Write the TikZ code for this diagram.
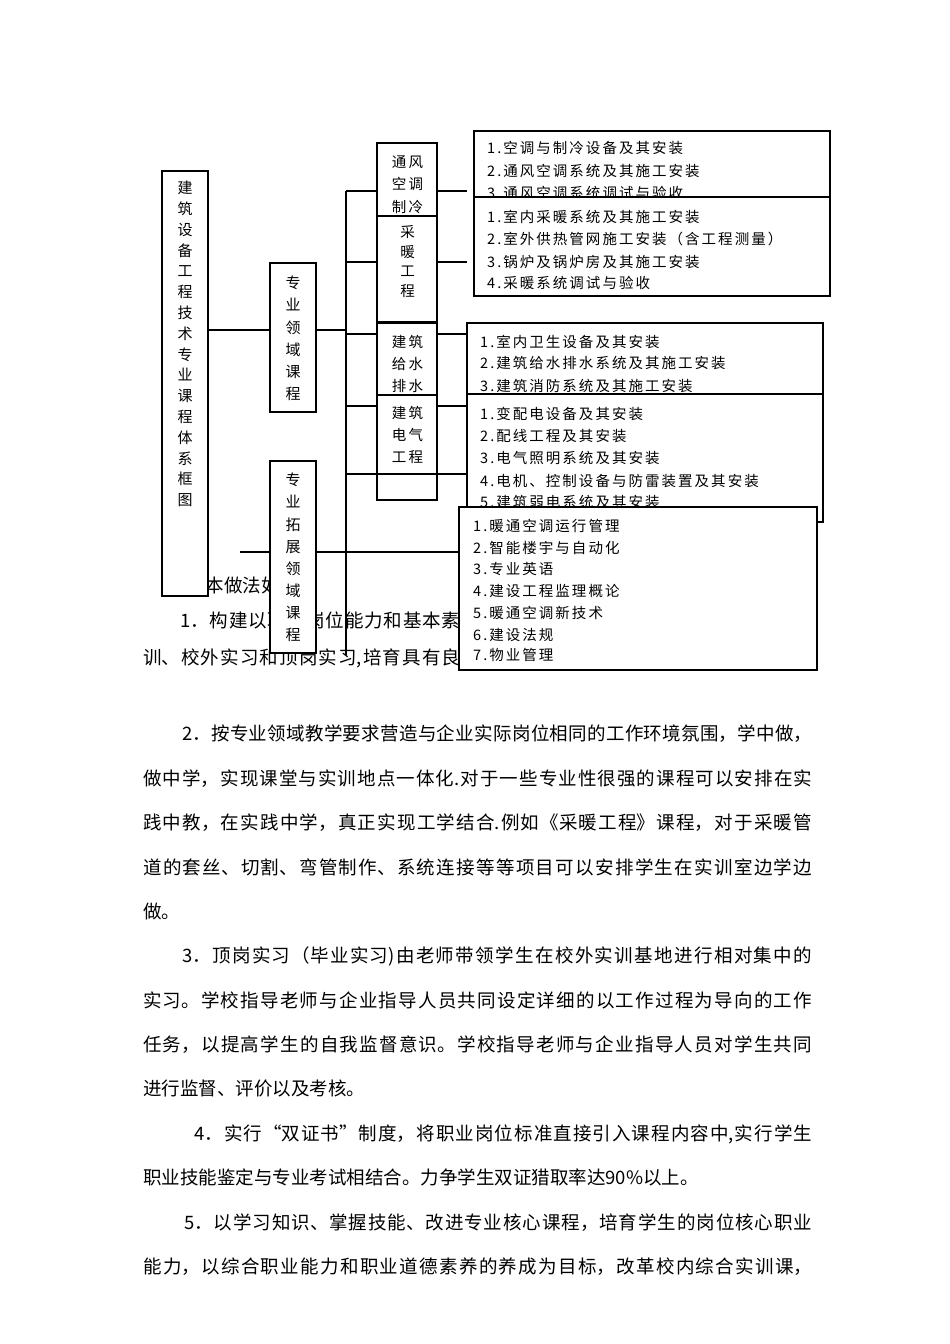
\documentclass[tikz,border=0pt]{standalone}
\usepackage{fontspec}
\setmainfont{Noto Sans CJK SC}
\newfontfamily\lstfont[LetterSpace=14]{Noto Sans CJK SC}
\XeTeXlinebreaklocale "zh"
\XeTeXlinebreakskip=0pt plus 3pt
\newcommand\jl[2]{\parbox[b]{#1}{\tolerance=10000\hbadness=10000\parindent=0pt\parfillskip=0pt\relax #2}}
\tikzset{
  box/.style={draw=black, line width=1.3pt, fill=white, inner sep=0pt, outer sep=0pt, anchor=north west},
  conn/.style={draw=black, line width=1.3pt},
  body/.style={anchor=base west, inner sep=0pt, font=\fontsize{18.5}{22}\selectfont},
  vtxt/.style={align=center, inner sep=0pt, font=\fontsize{15}{#1}\selectfont},
  htxt/.style={align=center, inner sep=0pt, font=\lstfont\fontsize{14.5}{#1}\selectfont},
  item/.style={anchor=base west, inner sep=0pt, font=\lstfont\fontsize{14.5}{17}\selectfont}
}
\begin{document}
\begin{tikzpicture}[x=1pt,y=-1pt]
\useasboundingbox[fill=white] (0,0) rectangle (950,1344);

% ---- body text (partly covered by the diagram) ----
\node[body] (p0a) at (187,592) {基本做法如下};
\node[body] (p1a) at (180,627) {\jl{280pt}{1．构建以职业岗位能力和基本素}};
\node[body] (p1b) at (143,664) {\jl{317pt}{训、校外实习和顶岗实习,培育具有良}};

\node[body] (p2a) at (182,740) {\jl{630pt}{2．按专业领域教学要求营造与企业实际岗位相同的工作环境氛围，学中做，}};
\node[body] (p2b) at (143,785) {\jl{669pt}{做中学，实现课堂与实训地点一体化.对于一些专业性很强的课程可以安排在实}};
\node[body] (p2c) at (143,829) {\jl{669pt}{践中教，在实践中学，真正实现工学结合.例如《采暖工程》课程，对于采暖管}};
\node[body] (p2d) at (143,874) {\jl{669pt}{道的套丝、切割、弯管制作、系统连接等等项目可以安排学生在实训室边学边}};
\node[body] (p2e) at (143,918) {做。};

\node[body] (p3a) at (182,962) {\jl{630pt}{3．顶岗实习（毕业实习)由老师带领学生在校外实训基地进行相对集中的}};
\node[body] (p3b) at (143,1007) {\jl{669pt}{实习。学校指导老师与企业指导人员共同设定详细的以工作过程为导向的工作}};
\node[body] (p3c) at (143,1051) {\jl{669pt}{任务，以提高学生的自我监督意识。学校指导老师与企业指导人员对学生共同}};
\node[body] (p3d) at (143,1095) {进行监督、评价以及考核。};

\node[body] (p4a) at (194,1140) {\jl{618pt}{4．实行“双证书”制度，将职业岗位标准直接引入课程内容中,实行学生}};
\node[body] (p4b) at (143,1184) {职业技能鉴定与专业考试相结合。力争学生双证猎取率达90\%以上。};

\node[body] (p5a) at (184,1229) {\jl{628pt}{5．以学习知识、掌握技能、改进专业核心课程，培育学生的岗位核心职业}};
\node[body] (p5b) at (143,1273) {\jl{669pt}{能力，以综合职业能力和职业道德素养的养成为目标，改革校内综合实训课，}};

% ---- junction coordinates ----
\coordinate (bus) at (346,330);
\coordinate (b1) at (346,191);
\coordinate (b2) at (346,262);
\coordinate (b3) at (346,334);
\coordinate (b4) at (346,406);
\coordinate (b5) at (346,474);
\coordinate (bend) at (346,655);
\coordinate (t1) at (240,552);

% ---- box positions for the lines drawn beneath ----
\path
  (162,171) node[box, minimum width=46pt, minimum height=425pt, draw=none, fill=none] (mainpos) {}
  (270,263) node[box, minimum width=46pt, minimum height=149pt, draw=none, fill=none] (lypos) {}
  (270,461) node[box, minimum width=46pt, minimum height=192pt, draw=none, fill=none] (tzpos) {};

% ---- connectors ----
\draw[conn] (mainpos.east |- bus) -- (lypos.west |- bus);
\draw[conn] (lypos.east |- bus) -- (bus);
\draw[conn] (b1) -- (bend);
\draw[conn] (t1) -- (tzpos.west |- t1);
\draw[conn] (tzpos.east |- t1) -- (459,552) coordinate (t2);

% boxes drawn over lines
\node[box, minimum width=46pt, minimum height=425pt] (main) at (162,171) {};
\node[box, minimum width=46pt, minimum height=149pt] (ly) at (270,263) {};
\node[box, minimum width=46pt, minimum height=192pt] (tz) at (270,461) {};
\node[box, minimum width=60pt, minimum height=73pt] (tf) at (377,143) {};
\node[box, minimum width=60pt, minimum height=106pt] (cn) at (377,216) {};
\node[box, minimum width=60pt, minimum height=72pt] (js) at (377,323) {};
\node[box, minimum width=60pt, minimum height=105pt] (dq) at (377,395) {};

\draw[conn] (b1) -- (tf.west |- b1);
\draw[conn] (b2) -- (cn.west |- b2);
\draw[conn] (b3) -- (js.west |- b3);
\draw[conn] (b4) -- (dq.west |- b4);

% vertical labels
\node[vtxt=20.8pt] (mainT) at (main.center |- 0,344) {建\\筑\\设\\备\\工\\程\\技\\术\\专\\业\\课\\程\\体\\系\\框\\图};
\node[vtxt=22.2pt] (lyT) at (ly.center |- 0,338.5) {专\\业\\领\\域\\课\\程};
\node[vtxt=22.1pt] (tzT) at (tz.center |- 0,557.5) {专\\业\\拓\\展\\领\\域\\课\\程};
\node[htxt=22.5pt] (tfT) at (407.5,184.5) {通风\\空调\\制冷};
\node[htxt=19.5pt] (cnT) at (407.5,261.5) {采\\暖\\工\\程};
\node[htxt=22pt] (jsT) at (407.5,364) {建筑\\给水\\排水};
\node[htxt=22pt] (dqT) at (407.5,435) {建筑\\电气\\工程};

% ---- list boxes ----
\node[box, minimum width=356pt, minimum height=66pt] (L1) at (474,131) {};
\node[item] (l11) at (487,153.5) {1.空调与制冷设备及其安装};
\node[item] (l12) at (487,176.5) {2.通风空调系统及其施工安装};
\node[item] (l13) at (487,198.5) {3.通风空调系统调试与验收};
\node[box, minimum width=356pt, minimum height=99pt] (L2) at (474,197) {};
\node[item] (l21) at (487,222.5) {1.室内采暖系统及其施工安装};
\node[item] (l22) at (487,244.5) {2.室外供热管网施工安装（含工程测量）};
\node[item] (l23) at (487,267.5) {3.锅炉及锅炉房及其施工安装};
\node[item] (l24) at (487,288.5) {4.采暖系统调试与验收};

\node[box, minimum width=356pt, minimum height=71pt] (L3) at (467,323) {};
\node[item] (l31) at (480,347.5) {1.室内卫生设备及其安装};
\node[item] (l32) at (480,368.5) {2.建筑给水排水系统及其施工安装};
\node[item] (l33) at (480,391.5) {3.建筑消防系统及其施工安装};
\node[box, minimum width=356pt, minimum height=128pt] (L4) at (467,394) {};
\node[item] (l41) at (480,419.5) {1.变配电设备及其安装};
\node[item] (l42) at (480,441.5) {2.配线工程及其安装};
\node[item] (l43) at (480,463.5) {3.电气照明系统及其安装};
\node[item] (l44) at (480,486.5) {4.电机、控制设备与防雷装置及其安装};
\node[item] (l45) at (480,507.5) {5.建筑弱电系统及其安装};

\node[box, minimum width=358pt, minimum height=163pt] (L5) at (459,507) {};
\node[item] (l51) at (473,531.5) {1.暖通空调运行管理};
\node[item] (l52) at (473,553.5) {2.智能楼宇与自动化};
\node[item] (l53) at (473,574.5) {3.专业英语};
\node[item] (l54) at (473,596.5) {4.建设工程监理概论};
\node[item] (l55) at (473,618.5) {5.暖通空调新技术};
\node[item] (l56) at (473,640.5) {6.建设法规};
\node[item] (l57) at (473,660.5) {7.物业管理};

% ---- box-to-list connectors ----
\draw[conn, shorten >=7pt] (tf.east |- b1) -- (L1.west |- b1);
\draw[conn, shorten >=7pt] (cn.east |- b2) -- (L2.west |- b2);
\draw[conn] (js.east |- b3) -- (L3.west |- b3);
\draw[conn] (dq.east |- b4) -- (L4.west |- b4);
\draw[conn] (b5) -- (L4.west |- b5);
\end{tikzpicture}
\end{document}
